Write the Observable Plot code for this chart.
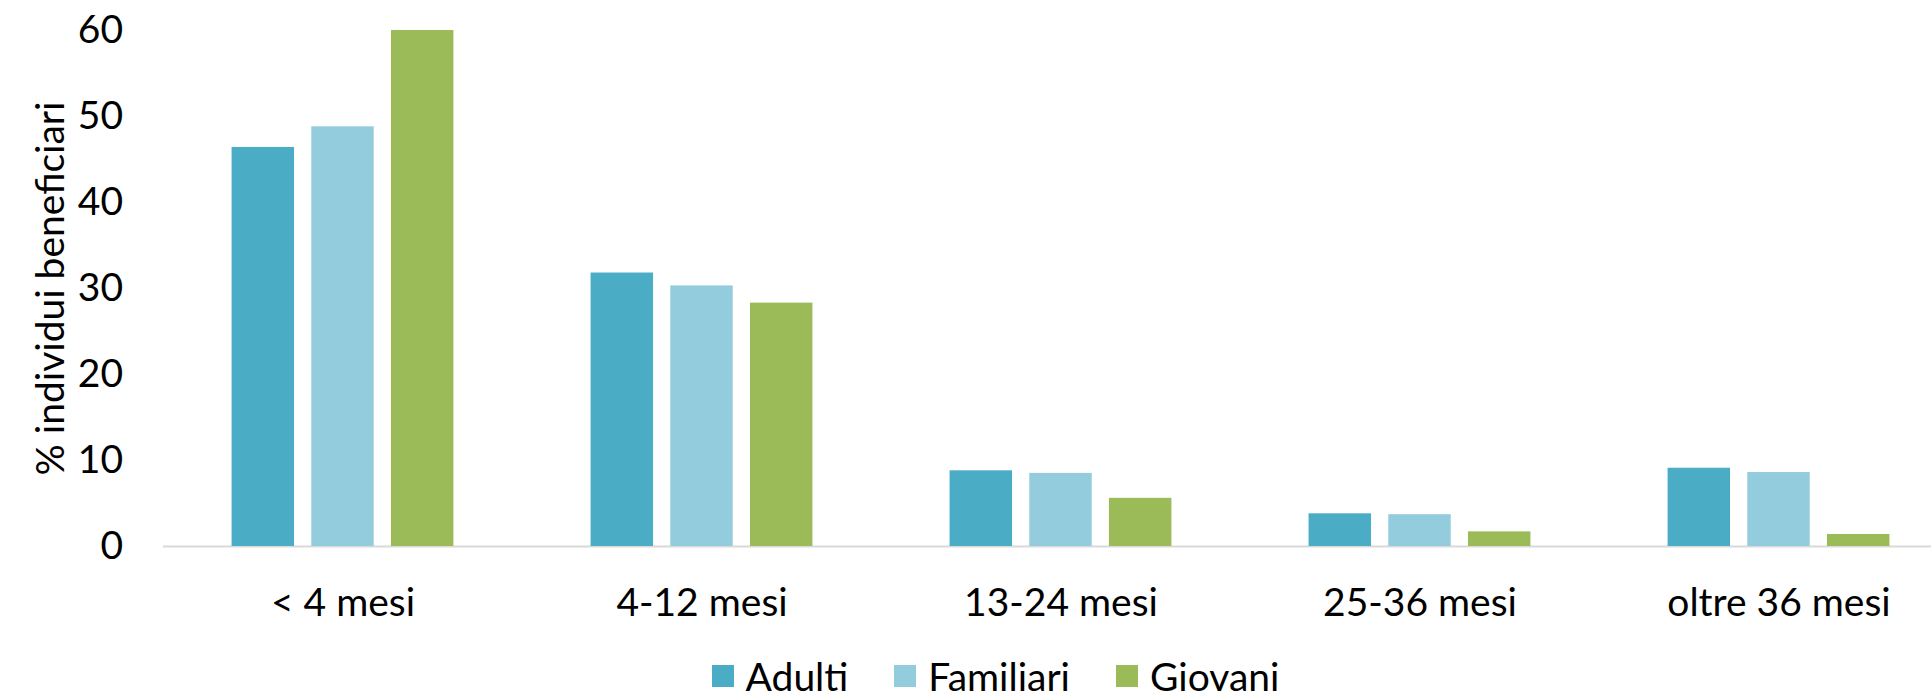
<!DOCTYPE html>
<html>
<head>
<meta charset="utf-8">
<script src="https://cdn.jsdelivr.net/npm/d3@7"></script>
<script src="https://cdn.jsdelivr.net/npm/@observablehq/plot@0.6"></script>
<style>
  html, body { margin: 0; padding: 0; background: #fff; }
  #chart { width: 1931px; }
  .legend { display: flex; justify-content: center; align-items: center; height: 40px; padding-top: 16px;
            font-family: Lato, "Open Sans", sans-serif; font-size: 39px; color: #000; padding-left: 60px; }
  .legend .item { display: flex; align-items: center; margin: 0 23px; }
  .legend .sw { width: 22px; height: 22px; margin-right: 12px; display: inline-block; }
</style>
</head>
<body>
<div id="chart"></div>
<script>
const categories = ["< 4 mesi", "4-12 mesi", "13-24 mesi", "25-36 mesi", "oltre 36 mesi"];
const series = ["Adulti", "Familiari", "Giovani"];
const adulti = [46.4, 31.8, 8.8, 3.8, 9.1];
const familiari = [48.8, 30.3, 8.5, 3.7, 8.6];
const giovani = [60.0, 28.3, 5.6, 1.7, 1.4];
const yTicks = [0, 10, 20, 30, 40, 50, 60];
const colors = ["#4BACC6", "#93CDDD", "#9BBB59"];
const yLabel = "% individui beneficiari";

const values = [adulti, familiari, giovani];
const data = [];
categories.forEach((c, i) => {
  series.forEach((s, j) => data.push({cat: c, series: s, value: values[j][i]}));
});

const chart = Plot.plot({
  width: 1931,
  height: 640,
  marginLeft: 163,
  marginRight: -27,
  marginTop: 30,
  marginBottom: 94,
  style: {fontFamily: "Lato, 'Open Sans', sans-serif", fontSize: "39px", color: "#000", background: "#fff"},
  fx: {domain: categories, paddingInner: 0.382, paddingOuter: 0.191, round: false, label: null, tickSize: 0, tickPadding: 42},
  x: {domain: series, paddingInner: 0.216, paddingOuter: 0, round: false, axis: null},
  y: {domain: [0, 60], ticks: yTicks, tickSize: 0, tickPadding: 109, label: yLabel, labelAnchor: "center", labelArrow: "none", labelOffset: 196},
  color: {domain: series, range: colors},
  marks: [
    Plot.ruleY([0], {stroke: "#d9d9d9", strokeWidth: 2, insetLeft: -68.6, insetRight: -68.6}),
    Plot.barY(data, {fx: "cat", x: "series", y: "value", fill: "series"})
  ]
});
document.getElementById("chart").appendChild(chart);

const leg = document.createElement("div");
leg.className = "legend";
series.forEach((s, i) => {
  const it = document.createElement("span");
  it.className = "item";
  const sw = document.createElement("span");
  sw.className = "sw";
  sw.style.background = colors[i];
  it.appendChild(sw);
  it.appendChild(document.createTextNode(s));
  leg.appendChild(it);
});
document.getElementById("chart").appendChild(leg);
</script>
</body>
</html>
